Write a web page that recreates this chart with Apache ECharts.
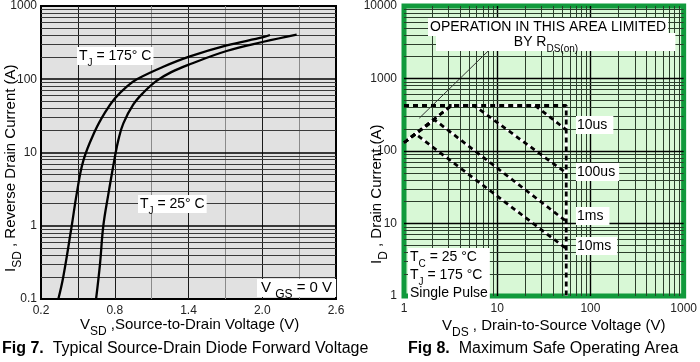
<!DOCTYPE html>
<html>
<head>
<meta charset="utf-8">
<script src="https://cdn.jsdelivr.net/npm/echarts@6/dist/echarts.min.js"></script>
<style>html,body{margin:0;padding:0;background:#fff;}#c{width:700px;height:362px;}</style>
</head>
<body>
<div id="c"></div>
<script>
// ---------- Fig 7 data ----------
const v175 = [0.341, 0.381, 0.45, 0.49, 0.544, 0.639, 0.72, 0.802, 0.90, 0.98, 1.195, 1.412, 1.711, 2.009, 2.063];
const i175 = [0.1, 0.2, 1, 2.7, 7.7, 19.6, 35, 55, 80, 100, 148, 205, 290, 375, 402];
const v25 = [0.648, 0.68, 0.707, 0.748, 0.80, 0.83, 0.87, 0.95, 1.03, 1.14, 1.26, 1.41, 1.71, 2.01, 2.28];
const i25 = [0.1, 0.3, 1, 2.7, 8.5, 15, 25, 45, 65, 95, 125, 160, 243, 325, 408];
const fig7XTicks = [0.2, 0.8, 1.4, 2.0, 2.6];
const fig7XGrid = [0.5, 0.8, 1.1, 1.4, 1.7, 2.0, 2.3];
const fig7YDecades = [0.1, 1, 10, 100, 1000];

// ---------- Fig 8 data ----------
const dcLeftV = [1, 3.24];
const dcLeftI = [424, 424];
const dcRightV = [25.5, 55, 55];
const dcRightI = [424, 424, 1];
const v10us = [1, 3.24, 25.5, 55];
const i10us = [130, 424, 424, 196];
const v100us = [1, 3.24, 5.65, 55];
const i100us = [130, 424, 424, 49.6];
const v1ms = [1, 2.13, 55];
const i1ms = [130, 269, 10.7];
const v10ms = [1, 1.32, 55];
const i10ms = [130, 173, 4.5];
const rdsLeaderV = [11.5, 1.46];
const rdsLeaderI = [3776, 284];
const fig8XDecades = [1, 10, 100, 1000];
const fig8YDecades = [1, 10, 100, 1000, 10000];

const zip = (a, b) => a.map((v, k) => [v, b[k]]);
function logMinors(decades) {
  const out = [];
  for (let d = 0; d < decades.length - 1; d++) {
    for (let m = 2; m <= 9; m++) out.push(+(decades[d] * m).toPrecision(6));
  }
  return out;
}

const FONT = '"Liberation Sans", Arial, Helvetica, sans-serif';
const chart = echarts.init(document.getElementById('c'), null, {renderer: 'canvas'});

function gridSeries(xi, yi, xs, ys) {
  return {
    type: 'line', xAxisIndex: xi, yAxisIndex: yi, data: [], z: 1, silent: true, animation: false,
    markLine: {silent: true, symbol: ['none', 'none'], animation: false, label: {show: false},
      data: xs.concat(ys)}
  };
}

const fig7Grid = gridSeries(0, 0,
  fig7XGrid.map(v => ({xAxis: v, lineStyle: {color: [1.1, 1.7, 2.3].includes(v) ? '#8a8a8a' : '#1a1a1a', width: 1, type: 'solid'}})),
  logMinors(fig7YDecades).map(v => ({yAxis: v, lineStyle: {color: '#3a3a3a', width: 1, type: 'solid'}}))
    .concat(fig7YDecades.slice(1, -1).map(v => ({yAxis: v, lineStyle: {color: '#000', width: 1.6, type: 'solid'}})))
);
const fig8Grid = gridSeries(1, 1,
  logMinors(fig8XDecades).map(v => ({xAxis: v, lineStyle: {color: '#2c3e2c', width: 1, type: 'solid'}}))
    .concat(fig8XDecades.slice(1, -1).map(v => ({xAxis: v, lineStyle: {color: '#000', width: 1.4, type: 'solid'}}))),
  logMinors(fig8YDecades).map(v => ({yAxis: v, lineStyle: {color: '#2c3e2c', width: 1, type: 'solid'}}))
    .concat(fig8YDecades.slice(1, -1).map(v => ({yAxis: v, lineStyle: {color: '#000', width: 1.4, type: 'solid'}})))
);

function curve(xs, ys) {
  return {type: 'line', xAxisIndex: 0, yAxisIndex: 0, data: zip(xs, ys), showSymbol: false, symbol: 'none',
    smooth: 0.4, z: 5, lineStyle: {color: '#000', width: 2.3}, animation: false};
}
function soa(xs, ys, white) {
  const d = zip(xs, ys);
  const out = [];
  if (white !== false) out.push({type: 'line', xAxisIndex: 1, yAxisIndex: 1, data: d, symbol: 'none', z: 4,
      lineStyle: {color: '#fff', width: 2.8}, animation: false});
  out.push({type: 'line', xAxisIndex: 1, yAxisIndex: 1, data: d, symbol: 'none', z: 5,
      lineStyle: {color: '#000', width: 2.8, type: [5, 4]}, animation: false});
  return out;
}

const rich = {
  n: {fontSize: 14, fontFamily: FONT, color: '#000', lineHeight: 18},
  s: {fontSize: 10, fontFamily: FONT, color: '#000', lineHeight: 10, verticalAlign: 'bottom', padding: [0, 0, -3, 0]},
  b: {fontSize: 15, fontFamily: FONT, color: '#000', lineHeight: 18},
  bs: {fontSize: 12, fontFamily: FONT, color: '#000', lineHeight: 10, verticalAlign: 'bottom', padding: [0, 0, -4, 0]},
  c: {fontSize: 16, fontFamily: FONT, color: '#000', fontWeight: 'bold', lineHeight: 20},
  cn: {fontSize: 16, fontFamily: FONT, color: '#000', lineHeight: 20}
};
function txt(x, y, text, opt) {
  return {type: 'text', x: x, y: y, z: 50, silent: true,
    style: Object.assign({text: text, rich: rich, font: '14px ' + FONT, fill: '#000'}, opt || {})};
}

const axisLabelStyle = {color: '#222', fontSize: 12, fontFamily: FONT};

chart.setOption({
  animation: false,
  backgroundColor: '#fff',
  grid: [
    {left: 41, top: 4, width: 295, height: 295, show: true, backgroundColor: '#e1e1e1', borderColor: '#000', borderWidth: 2},
    {left: 404, top: 6, width: 290, height: 290, show: true, backgroundColor: '#d8f8d6', borderColor: '#119a3c', borderWidth: 5, z: 0}
  ],
  xAxis: [
    {type: 'value', gridIndex: 0, min: 0.2, max: 2.6, interval: 0.6,
      axisLine: {show: false}, axisTick: {show: false}, splitLine: {show: false},
      axisLabel: Object.assign({margin: 6, customValues: fig7XTicks, formatter: v => v.toFixed(1)}, axisLabelStyle)},
    {type: 'log', gridIndex: 1, min: 1, max: 1000, logBase: 10,
      axisLine: {show: false}, axisTick: {show: false}, splitLine: {show: false},
      axisLabel: Object.assign({margin: 7, formatter: v => String(Math.round(v))}, axisLabelStyle)}
  ],
  yAxis: [
    {type: 'log', gridIndex: 0, min: 0.1, max: 1000, logBase: 10,
      axisLine: {show: false}, axisTick: {show: false}, splitLine: {show: false},
      axisLabel: Object.assign({margin: 4, formatter: v => (v < 1 ? String(+v.toFixed(1)) : String(Math.round(v)))}, axisLabelStyle)},
    {type: 'log', gridIndex: 1, min: 1, max: 10000, logBase: 10,
      axisLine: {show: false}, axisTick: {show: false}, splitLine: {show: false},
      axisLabel: Object.assign({margin: 7, formatter: v => String(Math.round(v))}, axisLabelStyle)}
  ],
  series: [
    fig7Grid,
    fig8Grid,
    curve(v175, i175),
    curve(v25, i25),
    {type: 'line', xAxisIndex: 1, yAxisIndex: 1, data: zip(rdsLeaderV, rdsLeaderI), symbol: 'none', z: 3,
      lineStyle: {color: '#333', width: 1}, animation: false},
    {type: 'line', xAxisIndex: 1, yAxisIndex: 1, data: zip(dcRightV.slice(1), dcRightI.slice(1)), symbol: 'none', z: 4,
      lineStyle: {color: '#fff', width: 2.8}, animation: false}
  ].concat(
    soa(dcLeftV, dcLeftI, false), soa(dcRightV, dcRightI, false),
    soa(v10us, i10us), soa(v100us, i100us), soa(v1ms, i1ms), soa(v10ms, i10ms)),
  graphic: [
    // Fig 7 annotations
    txt(77, 47, '{n|T}{s|J}{n| = 175° C}', {backgroundColor: '#fff', padding: [0, 2, 0, 2]}),
    txt(138, 195, '{n|T}{s|J}{n| = 25° C}', {backgroundColor: '#fff', padding: [0, 2, 0, 2]}),
    txt(257, 279, '{b|V }{bs|GS}{b| = 0 V}', {backgroundColor: '#fff', padding: [0, 4, 0, 4]}),
    // axis titles
    txt(80, 316, '{b|V}{bs|SD}{b| ,Source-to-Drain Voltage (V)}'),
    {type: 'text', x: 2, y: 272, rotation: Math.PI / 2, z: 50, silent: true,
      style: {text: '{b|I}{bs|SD}{b| , Reverse Drain Current (A)}', rich: rich}},
    txt(442, 317, '{b|V}{bs|DS}{b| , Drain-to-Source Voltage (V)}'),
    {type: 'text', x: 368, y: 264, rotation: Math.PI / 2, z: 50, silent: true,
      style: {text: '{b|I}{bs|D}{b| , Drain Current (A)}', rich: rich}},
    // captions
    txt(2, 339, '{c|Fig 7.}{cn|  Typical Source-Drain Diode Forward Voltage}'),
    txt(408, 339, '{c|Fig 8.}{cn|  Maximum Safe Operating Area}'),
    // Fig 8 annotations
    txt(428, 18, '{n|OPERATION IN THIS AREA LIMITED}', {backgroundColor: '#fff', padding: [0, 2, 0, 2]}),
    txt(436, 33, '{n|                    BY R}{s|DS(on)}{n|                         }', {backgroundColor: '#fff', padding: [0, 0, 0, 0]}),
    txt(576, 116, '{n|10us}', {backgroundColor: '#fff', padding: [0, 6, 0, 1]}),
    txt(576, 163, '{n|100us}', {backgroundColor: '#fff', padding: [0, 4, 0, 1]}),
    txt(576, 207, '{n|1ms}', {backgroundColor: '#fff', padding: [0, 6, 0, 1]}),
    txt(576, 237, '{n|10ms}', {backgroundColor: '#fff', padding: [0, 6, 0, 1]}),
    txt(408, 248, '{n|T}{s|C}{n| = 25 °C}\n{n|T}{s|J}{n| = 175 °C}\n{n|Single Pulse}', {backgroundColor: '#fff', padding: [0, 2, 0, 2]})
  ]
});
</script>
</body>
</html>
